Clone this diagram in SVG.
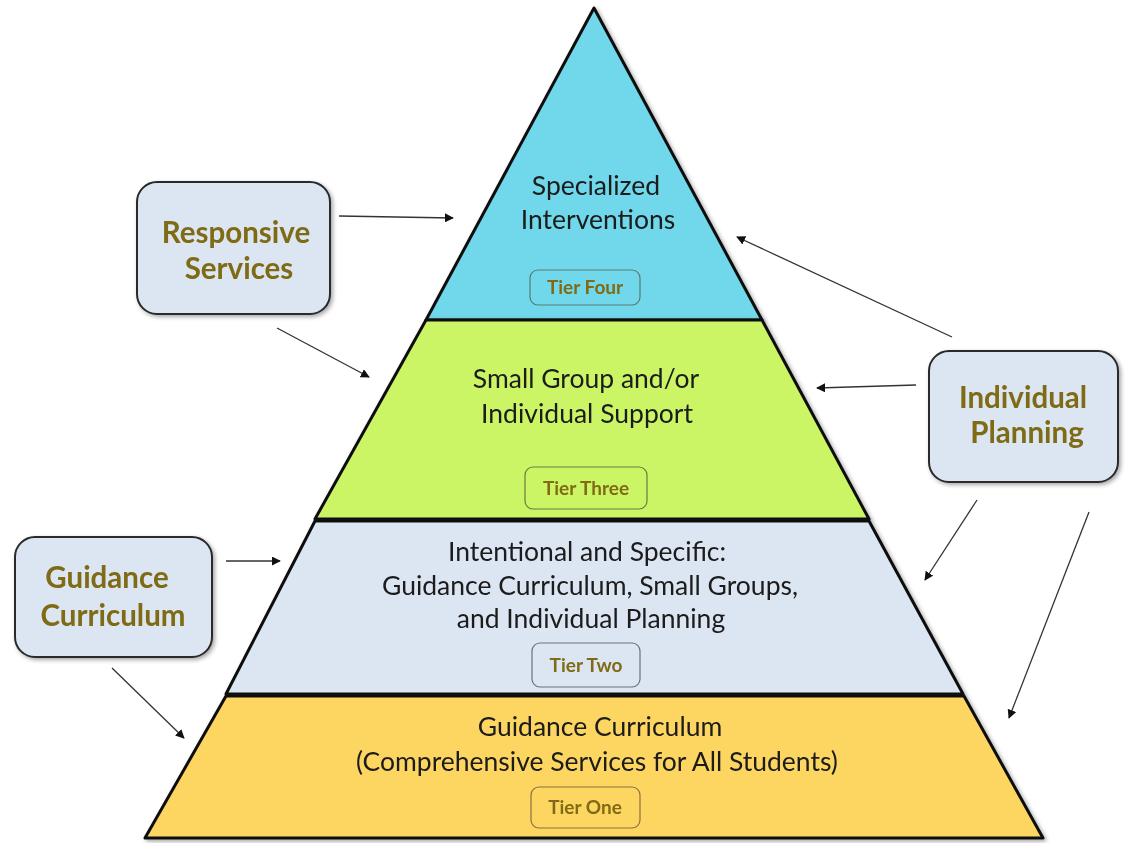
<svg xmlns="http://www.w3.org/2000/svg" width="1127" height="843" viewBox="0 0 1127 843">
<defs>
<filter id="sh" x="-10%" y="-10%" width="120%" height="120%"><feDropShadow dx="2" dy="2" stdDeviation="2" flood-color="#000" flood-opacity="0.35"/></filter>
<marker id="ah" viewBox="0 0 10 10" refX="9" refY="5" markerWidth="9" markerHeight="9" markerUnits="userSpaceOnUse" orient="auto"><path d="M0,0 L10,5 L0,10 z" fill="#111"/></marker>
</defs>
<style>
.tier{stroke:#111;stroke-width:3;stroke-linejoin:round}
.tt{font-family:Lato,"Liberation Sans",sans-serif;font-size:26.5px;fill:#1a1a1a;text-anchor:middle}
.lb{stroke-width:1.2;rx:8}
.lt{font-family:Lato,"Liberation Sans",sans-serif;font-size:19px;font-weight:bold;fill:#7f6a12;text-anchor:middle}
.sb{fill:#dce6f2;stroke:#2a2a2a;stroke-width:2}
.st{font-family:Lato,"Liberation Sans",sans-serif;font-size:29.5px;font-weight:bold;fill:#7f6a12;text-anchor:middle}
.con{stroke:#333;stroke-width:1.3;fill:none;marker-end:url(#ah)}
</style>
<rect width="1127" height="843" fill="#fff"/>
<g id="tier4" filter="url(#sh)">
<polygon class="tier" points="594,8 426,320 762,320" fill="#6fd8ea"/>
<text class="tt" x="596" y="195">Specialized</text>
<text class="tt" x="598" y="229">Interventions</text>
<rect class="lb" x="530" y="270" width="110" height="35" fill="#6fd8ea" stroke="#5a7a70"/>
<text class="lt" x="585" y="294">Tier Four</text>
</g>
<g id="tier3" filter="url(#sh)">
<polygon class="tier" points="426,320 762,320 869,519 315,519" fill="#ccf565"/>
<text class="tt" x="586" y="388">Small Group and/or</text>
<text class="tt" x="587" y="423">Individual Support</text>
<rect class="lb" x="525" y="467" width="122" height="42" fill="#ccf565" stroke="#6a7a40"/>
<text class="lt" x="586" y="495">Tier Three</text>
</g>
<g id="tier2" filter="url(#sh)">
<polygon class="tier" points="315,521 869,521 963,694 226,694" fill="#dce6f2"/>
<text class="tt" x="587" y="561">Intentional and Specific:</text>
<text class="tt" x="590" y="595">Guidance Curriculum, Small Groups,</text>
<text class="tt" x="591" y="628">and Individual Planning</text>
<rect class="lb" x="532" y="643" width="108" height="44" fill="#dce6f2" stroke="#6a7080"/>
<text class="lt" x="586" y="672">Tier Two</text>
</g>
<g id="tier1" filter="url(#sh)">
<polygon class="tier" points="226,696 964,696 1043,838 145,838" fill="#fdd662"/>
<text class="tt" x="600" y="736">Guidance Curriculum</text>
<text class="tt" x="597" y="771">(Comprehensive Services for All Students)</text>
<rect class="lb" x="531" y="787" width="109" height="41" fill="#fdd662" stroke="#8a7040"/>
<text class="lt" x="585" y="814">Tier One</text>
</g>
<g id="responsive" filter="url(#sh)">
<rect class="sb" x="137" y="182" width="193" height="132" rx="20"/>
<text class="st" x="236" y="243">Responsive</text>
<text class="st" x="239" y="279">Services</text>
</g>
<g id="individual" filter="url(#sh)">
<rect class="sb" x="929" y="351" width="189" height="131" rx="20"/>
<text class="st" x="1023" y="408">Individual</text>
<text class="st" x="1027" y="443">Planning</text>
</g>
<g id="guidance" filter="url(#sh)">
<rect class="sb" x="15" y="537" width="197" height="120" rx="20"/>
<text class="st" x="107" y="588">Guidance</text>
<text class="st" x="113" y="626">Curriculum</text>
</g>
<g id="connectors">
<line class="con" x1="339" y1="216" x2="453" y2="218"/>
<line class="con" x1="277" y1="328" x2="369" y2="377"/>
<line class="con" x1="226" y1="561" x2="280" y2="561"/>
<line class="con" x1="112" y1="668" x2="184" y2="738"/>
<line class="con" x1="952" y1="337" x2="737" y2="237"/>
<line class="con" x1="916" y1="385" x2="817" y2="388"/>
<line class="con" x1="977" y1="500" x2="925" y2="580"/>
<line class="con" x1="1089" y1="512" x2="1009" y2="718"/>
</g>
</svg>
